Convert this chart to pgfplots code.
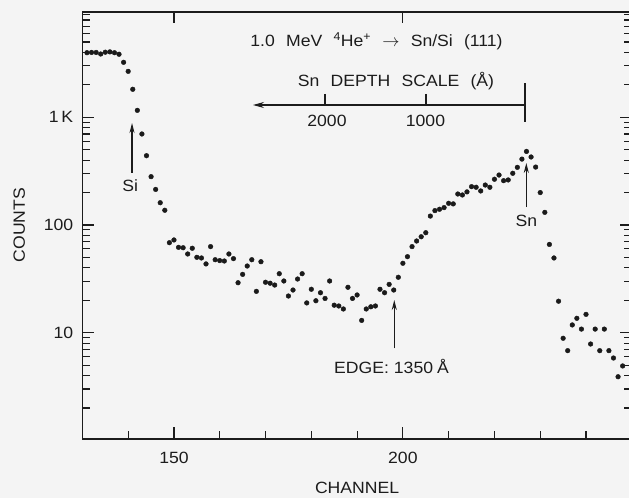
\documentclass[border=0pt]{standalone}
\usepackage{fontspec}
\setmainfont{Liberation Sans}[FakeStretch=1.08, WordSpace=2.3]
\usepackage{pgfplots}
\pgfplotsset{compat=1.18}
\usetikzlibrary{arrows.meta,backgrounds}
\definecolor{ink}{HTML}{1C1C1C}
\definecolor{dot}{HTML}{1A1A1A}
\definecolor{bg}{HTML}{F4F4F4}
\newcommand{\lf}{\fontsize{16.3bp}{19bp}\selectfont}
\begin{document}
\begin{tikzpicture}[font=\lf, text=ink]
\begin{axis}[
  name=ax,
  scale only axis,
  width=549.4bp, height=427bp,
  xmin=130, xmax=250,
  ymode=log, ymin=1.03, ymax=9500,
  xtick={150,200},
  minor xtick={140,160,170,180,190,210,220,230,240},
  xtick pos=left,
  ytick={10,100,1000},
  yticklabels={10,100,1\,K},
  minor ytick={2,3,4,5,6,7,8,9,20,30,40,50,60,70,80,90,200,300,400,500,600,700,800,900,2000,3000,4000,5000,6000,7000,8000,9000},
  tick align=inside,
  major tick length=12bp, minor tick length=8bp,
  every tick/.style={line width=1.1bp, ink},
  axis line style={line width=1.3bp, ink},
  /pgf/number format/assume math mode=true,
  tick label style={font=\lf, ink},
  xticklabel style={anchor=north, inner sep=0pt, yshift=-13bp},
  yticklabel style={anchor=east, inner sep=0pt, xshift=-9bp},
  clip=false,
]
\addplot[only marks, mark=*, mark size=2.35bp, mark options={fill=dot, draw=dot}] table {
x y
131 3980
132 4000
133 4000
134 3870
135 4020
136 4050
137 3980
138 3850
139 3240
140 2670
141 1820
142 1160
143 700
144 440
145 281
146 214
147 161
148 137
149 68.5
150 72.6
151 62
152 61.5
153 53.8
154 60.8
155 50.1
156 49.4
157 43.5
158 63
159 47.6
160 46.7
161 46.3
162 53.8
163 48.7
164 29.1
165 34.8
166 41.6
167 47.6
168 24.2
169 45.6
170 29.4
171 28.8
172 27.7
173 35.3
174 30.2
175 21.9
176 24.9
177 31.5
178 35.3
179 18.9
180 25.3
181 19.8
182 23.5
183 20.8
184 30.2
185 18.0
186 17.7
187 16.6
188 26.4
189 20.8
190 22.4
191 13.0
192 16.6
193 17.4
194 17.7
195 25.3
196 23.5
197 28.1
198 24.9
199 32.7
200 44.1
201 50.8
202 63
203 71
204 77.8
205 84.8
206 121
207 136
208 140
209 145
210 159
211 157
212 194
213 190
214 203
215 227
216 224
217 207
218 235
219 224
220 266
221 291
222 258
223 262
224 302
225 343
226 409
227 482
228 428
229 345
230 200
231 131
232 66
233 49.4
234 19.6
235 8.87
236 6.81
237 11.8
238 13.6
239 10.8
240 14.8
241 7.85
242 10.8
243 6.81
244 10.8
245 6.81
246 5.82
247 3.90
248 4.91
};
% top major ticks
\draw[line width=1.1bp, ink] (axis cs:150,9500) -- (axis cs:150,7500);
\draw[line width=1.1bp, ink] (axis cs:200,9500) -- (axis cs:200,7500);
% title texts
\node[anchor=base] at (rel axis cs:0.5353,0.9187) {1.0 MeV \textsuperscript{4}He\textsuperscript{+} $\rightarrow$ Sn/Si (111)};
\node[anchor=base] at (rel axis cs:0.5708,0.8251) {Sn DEPTH SCALE (Å)};
% depth scale
\draw[line width=1.2bp, ink, -{Stealth[length=11bp,width=6bp]}] (rel axis cs:0.8056,0.7822) -- (rel axis cs:0.3105,0.7822);
\draw[line width=1.2bp, ink] (rel axis cs:0.8056,0.8337) -- (rel axis cs:0.8056,0.7431);
\draw[line width=1.2bp, ink] (rel axis cs:0.4416,0.8080) -- (rel axis cs:0.4416,0.7822);
\draw[line width=1.2bp, ink] (rel axis cs:0.6254,0.8080) -- (rel axis cs:0.6254,0.7822);
\node[anchor=base] at (rel axis cs:0.4452,0.7330) {2000};
\node[anchor=base] at (rel axis cs:0.6245,0.7330) {1000};
% Si arrow
\draw[line width=1.2bp, ink, -{Stealth[length=10bp,width=5bp]}] (rel axis cs:0.0903,0.6230) -- (rel axis cs:0.0903,0.7400);
\node[anchor=base] at (rel axis cs:0.0870,0.5792) {Si};
% Sn arrow
\draw[line width=1.2bp, ink, -{Stealth[length=10bp,width=5bp]}] (rel axis cs:0.8080,0.5433) -- (rel axis cs:0.8080,0.6464);
\node[anchor=base] at (rel axis cs:0.8080,0.4972) {Sn};
% Edge arrow
\draw[line width=1.2bp, ink, -{Stealth[length=10bp,width=5bp]}] (rel axis cs:0.5677,0.2124) -- (rel axis cs:0.5677,0.3255);
\node[anchor=base] at (rel axis cs:0.5626,0.1539) {EDGE:\hspace{5bp}1350\hspace{4bp}Å};
% axis labels
\node[anchor=base, inner sep=0pt] at (rel axis cs:0.5,-0.1288) {CHANNEL};
\node[anchor=base, rotate=90] at (rel axis cs:-0.1045,0.5012) {COUNTS};
\end{axis}
\pgfresetboundingbox
\path[use as bounding box] ([shift={(-82.4bp,-59bp)}]ax.south west) rectangle ([shift={(546.6bp,439bp)}]ax.south west);
\begin{scope}[on background layer]
\fill[bg] ([shift={(-82.4bp,-59bp)}]ax.south west) rectangle ([shift={(546.6bp,439bp)}]ax.south west);
\end{scope}
\end{tikzpicture}
\end{document}
